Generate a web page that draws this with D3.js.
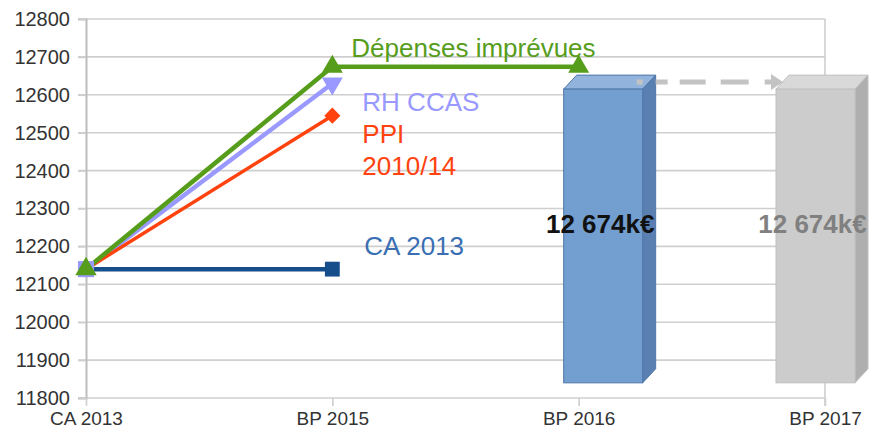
<!DOCTYPE html>
<html>
<head>
<meta charset="utf-8">
<script src="https://cdn.jsdelivr.net/npm/d3@7"></script>
<style>
  body { margin: 0; background: #fff; }
  text { font-family: "Liberation Sans", Arial, sans-serif; }
</style>
</head>
<body>
<div id="chart"></div>
<script>
// data
const categories = ["CA 2013", "BP 2015", "BP 2016", "BP 2017"];
const yTicks = [11800, 11900, 12000, 12100, 12200, 12300, 12400, 12500, 12600, 12700, 12800];
const caValues  = [12140, 12140, null, null];
const rhValues  = [12140, 12630, null, null];
const ppiValues = [12140, 12545, null, null];
const depValues = [12140, 12674, 12674, null];
const barCats   = ["BP 2016", "BP 2017"];
const barBase   = [11840, 11840];
const barTop    = [12615, 12615];
const barLabels = ["12 674k€", "12 674k€"];
const arrowCats = ["BP 2016", "BP 2017"];
const arrowValue = 12634;

const width = 875, height = 441;
const margin = {top: 19, right: 50, bottom: 43, left: 86};

const svg = d3.select("#chart").append("svg")
    .attr("width", width)
    .attr("height", height);

const x = d3.scalePoint()
    .domain(categories)
    .range([margin.left, width - margin.right]);

const y = d3.scaleLinear()
    .domain([11800, 12800])
    .range([height - margin.bottom, margin.top]);

// grid
svg.append("g")
    .selectAll("line")
    .data(yTicks)
    .enter()
    .append("line")
    .attr("x1", margin.left - 8)
    .attr("x2", width - margin.right)
    .attr("y1", d => y(d))
    .attr("y2", d => y(d))
    .attr("stroke", "#cfcfcf")
    .attr("stroke-width", 1.6);

// y axis
const yAxis = svg.append("g")
    .attr("transform", "translate(" + margin.left + ",0)")
    .call(d3.axisLeft(y).tickValues(yTicks).tickSize(8).tickPadding(8).tickFormat(d3.format("d")));
yAxis.select(".domain").attr("stroke", "#bdbdbd").attr("stroke-width", 2);
yAxis.selectAll(".tick line").attr("stroke", "#cfcfcf").attr("stroke-width", 1.6);
yAxis.selectAll("text").attr("font-size", 20).attr("fill", "#333");

// right border
svg.append("line")
    .attr("x1", width - margin.right).attr("x2", width - margin.right)
    .attr("y1", y(12800)).attr("y2", y(11800) + 8)
    .attr("stroke", "#cfcfcf").attr("stroke-width", 1.6);

// x axis
const xAxis = svg.append("g")
    .attr("transform", "translate(0," + y(11800) + ")")
    .call(d3.axisBottom(x).tickSize(8).tickPadding(6));
xAxis.select(".domain").remove();
xAxis.selectAll(".tick line").attr("stroke", "#cfcfcf").attr("stroke-width", 1.6);
xAxis.selectAll("text").attr("font-size", 19).attr("fill", "#333");

// bars (drawn as boxes)
const depth = {dx: 13, dy: -14};
const barWidth = 79;
const barShift = [-15, -49];
const barColors = [
    {front: "#729fcf", top: "#92b4dc", side: "#5a80b2", stroke: "#4f77aa", label: "#111"},
    {front: "#cccccc", top: "#d9d9d9", side: "#afafaf", stroke: "#c0c0c0", label: "#808080"}
];

const bars = svg.append("g")
    .selectAll("g")
    .data(barCats.map((c, i) => ({cat: c, base: barBase[i], top: barTop[i], label: barLabels[i], i: i})))
    .enter()
    .append("g");

bars.append("polygon")
    .attr("points", d => {
        const x0 = x(d.cat) + barShift[d.i], x1 = x0 + barWidth, yt = y(d.top);
        return [[x0, yt], [x0 + depth.dx, yt + depth.dy], [x1 + depth.dx, yt + depth.dy], [x1, yt]].join(" ");
    })
    .attr("fill", d => barColors[d.i].top)
    .attr("stroke", d => barColors[d.i].stroke)
    .attr("stroke-width", 1);

bars.append("polygon")
    .attr("points", d => {
        const x1 = x(d.cat) + barShift[d.i] + barWidth, yt = y(d.top), yb = y(d.base);
        return [[x1, yt], [x1 + depth.dx, yt + depth.dy], [x1 + depth.dx, yb + depth.dy], [x1, yb]].join(" ");
    })
    .attr("fill", d => barColors[d.i].side)
    .attr("stroke", d => barColors[d.i].stroke)
    .attr("stroke-width", 1);

bars.append("rect")
    .attr("x", d => x(d.cat) + barShift[d.i])
    .attr("y", d => y(d.top))
    .attr("width", barWidth)
    .attr("height", d => y(d.base) - y(d.top))
    .attr("fill", d => barColors[d.i].front)
    .attr("stroke", d => barColors[d.i].stroke)
    .attr("stroke-width", 1);

// dashed arrow
const ax0 = x(arrowCats[0]) + barShift[0] + barWidth - 6;
const ax1 = x(arrowCats[1]) - 42;
svg.append("line")
    .attr("x1", ax0).attr("x2", ax1 - 10)
    .attr("y1", y(arrowValue)).attr("y2", y(arrowValue))
    .attr("stroke", "#c3c3c3")
    .attr("stroke-width", 5)
    .attr("stroke-dasharray", "6,13,12,12,26,15,28,16,30");
svg.append("path")
    .attr("d", d3.line()([[ax1 - 12, y(arrowValue) - 8], [ax1, y(arrowValue)], [ax1 - 12, y(arrowValue) + 8]]))
    .attr("fill", "#c3c3c3");

// bar labels
bars.append("text")
    .attr("x", d => x(d.cat) + barShift[d.i] + barWidth / 2 - 3)
    .attr("y", d => (y(d.top) + y(d.base)) / 2 - 12)
    .attr("dy", "0.35em")
    .attr("text-anchor", "middle")
    .attr("font-size", 26)
    .attr("font-weight", "bold")
    .attr("fill", d => barColors[d.i].label)
    .text(d => d.label);

// lines
const symbolSize = 190;
const series = [
    {name: "RH CCAS", values: rhValues, color: "#9999ff", width: 4.5, symbols: [d3.symbolSquare, d3.symbolTriangle], rot: [0, 180], size: [260, 190]},
    {name: "CA 2013", values: caValues, color: "#164e8c", width: 4.5, symbols: [d3.symbolSquare, d3.symbolSquare], rot: [0, 0], size: [190, 220]},
    {name: "PPI", values: ppiValues, color: "#ff420e", width: 3.5, symbols: [d3.symbolSquare, d3.symbolSquare], rot: [45, 45], size: [90, 130]},
    {name: "Dépenses imprévues", values: depValues, color: "#579d1c", width: 4.5, symbols: [d3.symbolTriangle, d3.symbolTriangle, d3.symbolTriangle], rot: [0, 0, 0], size: [200, 190, 190]}
];

const line = d3.line()
    .defined(d => d.v !== null)
    .x(d => x(d.c))
    .y(d => y(d.v));

const pointsOf = s => categories.map((c, i) => ({c: c, v: s.values[i], i: i}));

series.forEach(s => {
    svg.append("path")
        .datum(pointsOf(s))
        .attr("d", line)
        .attr("fill", "none")
        .attr("stroke", s.color)
        .attr("stroke-width", s.width);
});

// markers: blue, red, lilac, green from bottom to top
[1, 2, 0, 3].forEach(k => {
    const s = series[k];
    svg.append("g")
        .selectAll("path")
        .data(pointsOf(s).filter(d => d.v !== null))
        .enter()
        .append("path")
        .attr("d", d => d3.symbol().type(s.symbols[d.i]).size(s.size[d.i])())
        .attr("transform", d => "translate(" + x(d.c) + "," + y(d.v) + ") rotate(" + s.rot[d.i] + ")")
        .attr("fill", s.color);
});

// annotations
const notes = [
    {lines: ["Dépenses imprévues"], color: "#579d1c", v: 12674, dy: -19},
    {lines: ["RH CCAS"], color: "#9999ff", v: 12630, dy: 18},
    {lines: ["PPI", "2010/14"], color: "#ff420e", v: 12545, dy: 18},
    {lines: ["CA 2013"], color: "#3a6fb4", v: 12140, dy: -23}
];
const noteX = [19, 30, 30, 32];
notes.forEach((n, k) => {
    const t = svg.append("text")
        .attr("x", x("BP 2015") + noteX[k])
        .attr("y", y(n.v) + n.dy)
        .attr("dy", "0.35em")
        .attr("font-size", 26)
        .attr("fill", n.color);
    n.lines.forEach((l, j) => {
        t.append("tspan")
            .attr("x", x("BP 2015") + noteX[k])
            .attr("dy", j === 0 ? "0.35em" : "1.25em")
            .text(l);
    });
});
</script>
</body>
</html>
